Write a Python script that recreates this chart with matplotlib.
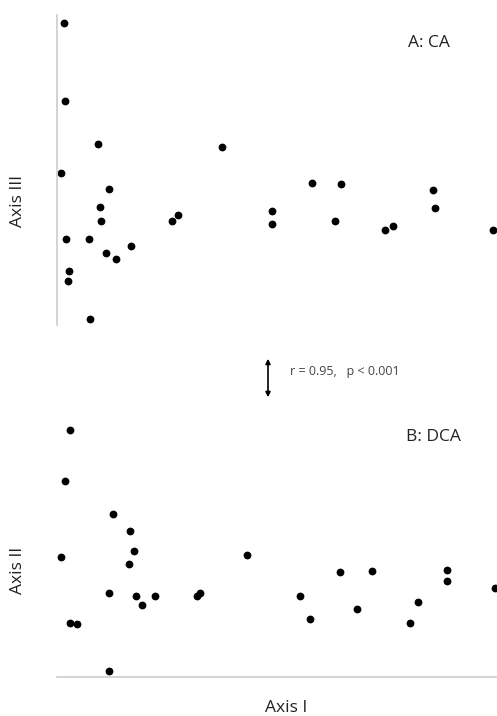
import matplotlib
matplotlib.use("Agg")
import matplotlib.pyplot as plt

plt.rcParams['font.family'] = ['Open Sans', 'DejaVu Sans']

# A: CA  (Axis I vs Axis III)
ca_x = [0.16, 0.18, 0.93, 0.09, 1.18, 0.98, 1.00, 0.20, 0.73, 1.68, 1.11, 1.34,
        0.27, 0.25, 0.75, 3.75, 2.61, 2.75, 5.80, 6.45, 4.89, 4.89, 6.32, 7.45,
        7.64, 8.55, 8.59, 9.91]
ca_y = [9.74, 7.23, 5.84, 4.90, 4.39, 3.81, 3.35, 2.77, 2.77, 2.55, 2.32, 2.13,
        1.74, 1.42, 0.19, 5.74, 3.35, 3.55, 4.58, 4.55, 3.68, 3.26, 3.35, 3.06,
        3.19, 4.35, 3.77, 3.06]

# B: DCA  (Axis I vs Axis II)
dca_x = [0.30, 0.18, 1.27, 1.66, 1.75, 1.64, 0.09, 1.18, 1.80, 1.93, 2.23, 3.18,
         3.25, 0.30, 0.45, 1.18, 4.32, 5.52, 5.75, 6.43, 6.82, 7.16, 8.02, 8.20,
         8.86, 8.86, 9.95]
dca_y = [9.25, 7.34, 6.10, 5.47, 4.72, 4.23, 4.49, 3.15, 3.03, 2.70, 3.03, 3.03,
         3.15, 2.02, 1.99, 0.22, 4.57, 3.03, 2.17, 3.93, 2.55, 3.97, 2.02, 2.81,
         4.01, 3.60, 3.33]

W, H = 497, 716
fig = plt.figure(figsize=(W / 100, H / 100), dpi=100)

ax1 = fig.add_axes([57 / W, 1 - 325 / H, 440 / W, 310 / H])
ax2 = fig.add_axes([57 / W, 1 - 677 / H, 440 / W, 267 / H])

spine_col = '#d0d0d0'
for ax in (ax1, ax2):
    ax.set_xlim(0, 10)
    ax.set_ylim(0, 10)
    ax.set_xticks([])
    ax.set_yticks([])
    for s in ax.spines.values():
        s.set_visible(False)
        s.set_color(spine_col)
        s.set_linewidth(1.3)

ax1.spines['left'].set_visible(True)
ax2.spines['bottom'].set_visible(True)

ax1.plot(ca_x, ca_y, 'o', color='black', markersize=4.6, clip_on=False)
ax2.plot(dca_x, dca_y, 'o', color='black', markersize=4.6, clip_on=False)

lab = dict(fontsize=12.5, color='#222222')
ax1.set_ylabel('Axis III', **lab)
ax1.yaxis.set_label_coords(-0.07, 0.40)
ax2.set_ylabel('Axis II', **lab)
ax2.yaxis.set_label_coords(-0.07, 0.40)
ax2.set_xlabel('Axis I', **lab)
ax2.xaxis.set_label_coords(0.52, -0.085)

ax1.text(0.845, 0.91, 'A: CA', transform=ax1.transAxes, ha='center', va='center', **lab)
ax2.text(0.855, 0.90, 'B: DCA', transform=ax2.transAxes, ha='center', va='center', **lab)

# correlation note between panels
fig.add_artist(matplotlib.patches.FancyArrowPatch(
    (268 / W, 1 - 356 / H), (268 / W, 1 - 400 / H),
    transform=fig.transFigure, arrowstyle='<|-|>', mutation_scale=7,
    color='black', linewidth=1.2))
fig.text(290 / W, 1 - 372 / H, 'r = 0.95,   p < 0.001', fontsize=9,
         color='#444444', ha='left', va='center')

fig.savefig('out.png', dpi=100)
